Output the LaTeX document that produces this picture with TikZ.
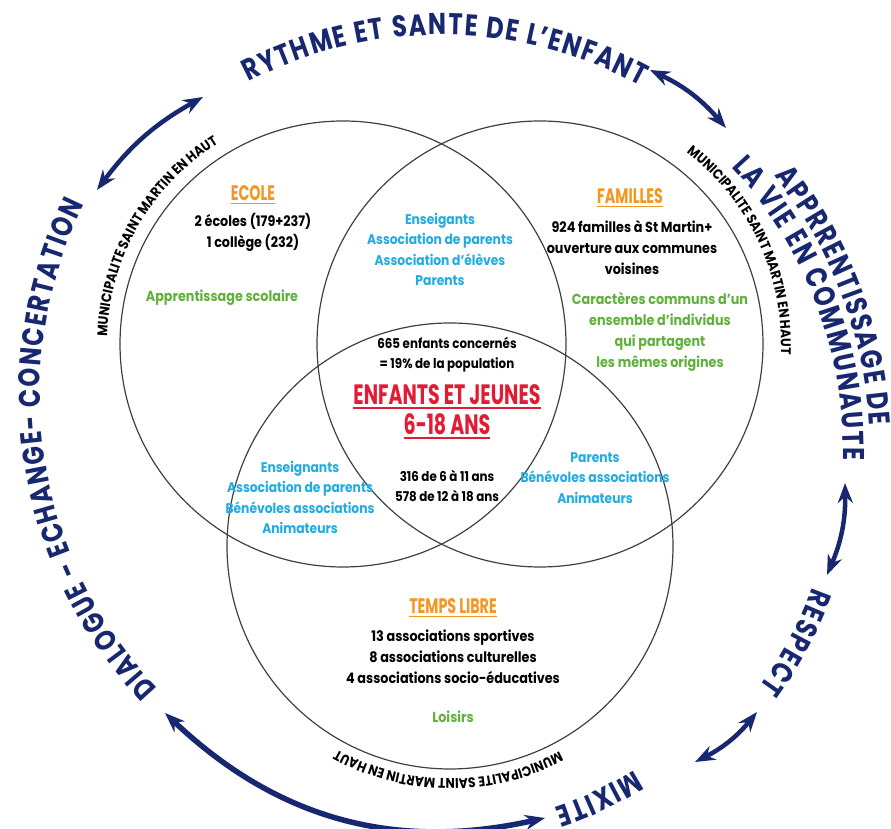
\documentclass[tikz,border=0pt]{standalone}
\usepackage{fontspec}
\setmainfont{Poppins}
\newfontfamily\ringfont[FakeStretch=0.8]{Poppins}
\newfontfamily\bodyfont[FakeStretch=0.88]{Poppins}
\newfontfamily\capsfont[FakeStretch=0.68]{Poppins}
\usetikzlibrary{arrows.meta,calc,decorations.text}
\definecolor{navy}{RGB}{24,40,112}
\definecolor{titleorange}{RGB}{244,150,34}
\definecolor{actorblue}{RGB}{32,172,226}
\definecolor{themegreen}{RGB}{96,176,60}
\definecolor{centrered}{RGB}{226,28,52}
\newcommand{\undertext}[2][1.6pt]{\setbox0\hbox{#2}\rlap{\rule[-4pt]{\wd0}{#1}}\box0}

\begin{document}
\begin{tikzpicture}[x=1pt,y=1pt,>={Stealth[length=20pt,width=15pt]},
  venn/.style={circle,draw=black!75,line width=1.2pt,minimum size=446pt,inner sep=0pt},
  title/.style={font=\capsfont\bfseries\fontsize{21}{24}\selectfont,text=titleorange},
  centre/.style={font=\capsfont\bfseries\fontsize{28}{30}\selectfont,align=center,text=centrered},
  info/.style={font=\bodyfont\bfseries\fontsize{14.5}{21}\selectfont,align=center,text=black},
  count/.style={info,font=\bodyfont\bfseries\fontsize{13.5}{20}\selectfont},
  actor/.style={font=\bodyfont\bfseries\fontsize{14}{20.5}\selectfont,align=center,text=actorblue},
  theme/.style={font=\bodyfont\bfseries\fontsize{14.5}{21}\selectfont,align=center,text=themegreen},
  twoway/.style={<->,draw=navy,line width=4.5pt,bend left=12},
  ringtext/.style={decorate,decoration={text along path,text align=center,text color=navy,
    text={|\ringfont\bfseries\fontsize{30}{30}\selectfont\kern1.6pt|#1}}},
  munitext/.style={decorate,decoration={text along path,text align=center,text color=black,
    text={|\bodyfont\bfseries\fontsize{14}{14}\selectfont|MUNICIPALITE SAINT MARTIN EN HAUT}}}]
\useasboundingbox (0,0) rectangle (891,829);

\node[venn] (ecole) at (343,485) {};
\node[venn] (familles) at (540,485) {};
\node[venn] (temps) at (450,283) {};

\node[title] (ecoleT) at (253,634) {\undertext{ECOLE}};
\node[info] (ecoleN) at (253,596.5) {2 écoles (179+237)\\1 collège (232)};
\node[theme] (ecoleG) at (222,531) {Apprentissage scolaire};

\node[title] (famT) at (630,631) {\undertext{FAMILLES}};
\node[info] (famN) at (632,581) {924 familles à St Martin+\\ouverture aux communes\\voisines};
\node[theme] (famG) at (660,497.5) {Caractères communs d’un\\ensemble d’individus\\qui partagent\\les mêmes origines};

\node[actor] (ecoleFam) at (440,579.5) {Enseigants\\Association de parents\\Association d’élèves\\Parents};
\node[count] (total) at (447,474) {665 enfants concernés\\= 19\% de la population};
\node[centre] (kids) at (447,417) {\undertext[2pt]{ENFANTS ET JEUNES}\\\undertext[2pt]{6-18 ANS}};
\node[count] (ages) at (447,343.5) {316 de 6 à 11 ans\\578 de 12 à 18 ans};
\node[actor] (ecoleTemps) at (300,331.5) {Enseignants\\Association de parents\\Bénévoles associations\\Animateurs};
\node[actor] (famTemps) at (595,351) {Parents\\Bénévoles associations\\Animateurs};

\node[title] (tempsT) at (453,221) {\undertext{TEMPS LIBRE}};
\node[info] (tempsN) at (453,172) {13 associations sportives\\8 associations culturelles\\4 associations socio-éducatives};
\node[theme] (tempsG) at (453,112) {Loisirs};

\path[munitext] ($(ecole.center)+(200:236)$) arc[start angle=200,end angle=100,radius=236pt];
\path[munitext] ($(familles.center)+(75:241)$) arc[start angle=75,end angle=-25,radius=241pt];
\path[munitext] ($(temps.center)+(-40:233)$) arc[start angle=-40,end angle=-141,radius=233pt];

\coordinate (hub) at (441,376);
\coordinate (hubR) at (435,379);
\coordinate (hubE) at (430,379);
\coordinate (hubL) at (468,435);
\path[ringtext={RYTHME ET SANTE DE L’ENFANT}] ($(hub)+(160:418)$) arc[start angle=160,end angle=19,radius=418pt];
\path[ringtext={APPRRENTISSAGE DE}] ($(hubE)+(58.5:440)$) arc[start angle=58.5,end angle=-16.5,radius=440pt];
\path[ringtext={LA VIE EN COMMUNAUTE}] ($(hubE)+(58.5:413)$) arc[start angle=58.5,end angle=-16.5,radius=413pt];
\path[ringtext={RESPECT}] ($(hubR)+(0:402)$) arc[start angle=0,end angle=-56,radius=402pt];
\path[ringtext={MIXITE}] ($(hubR)+(-40:377)$) arc[start angle=-40,end angle=-89.4,radius=377pt];
\path[ringtext={DIALOGUE - ECHANGE- CONCERTATION}] ($(hubL)+(240:428)$) arc[start angle=240,end angle=137.4,radius=428pt];

\coordinate (nwA) at (97,639);
\coordinate (nwB) at (203,732);
\coordinate (neA) at (650,759);
\coordinate (neB) at (726,701);
\coordinate (eA) at (845,346);
\coordinate (eB) at (827,254);
\coordinate (seA) at (757,117);
\coordinate (seB) at (695,67);
\coordinate (sA) at (545,11);
\coordinate (sB) at (165,116);
\draw[twoway] (nwA) to (nwB);
\draw[twoway] (neA) to (neB);
\draw[twoway] (eA) to (eB);
\draw[twoway] (seA) to (seB);
\draw[twoway,line width=5.5pt,bend left=28] (sA) to (sB);
\end{tikzpicture}
\end{document}
